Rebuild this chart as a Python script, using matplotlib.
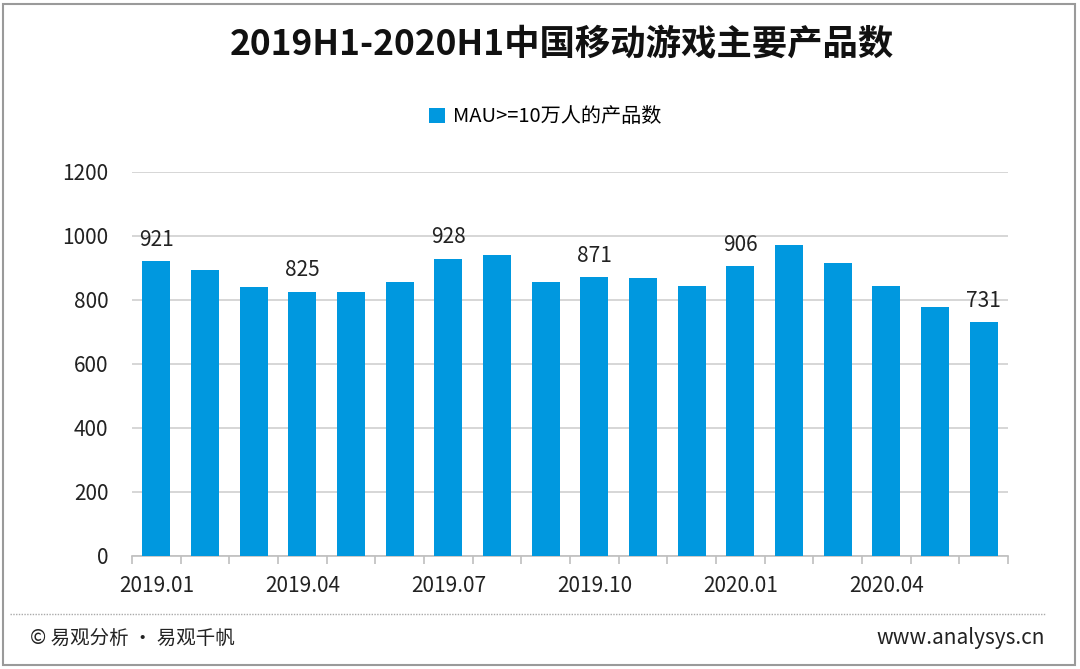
import matplotlib
matplotlib.use("Agg")
import matplotlib.pyplot as plt
from matplotlib.patches import Rectangle
from matplotlib.lines import Line2D

plt.rcParams['font.family'] = ['Noto Sans CJK SC', 'DejaVu Sans']

months = ['2019.01', '2019.02', '2019.03', '2019.04', '2019.05', '2019.06',
          '2019.07', '2019.08', '2019.09', '2019.10', '2019.11', '2019.12',
          '2020.01', '2020.02', '2020.03', '2020.04', '2020.05', '2020.06']
counts = [921, 895, 841, 825, 826, 857, 928, 940, 857, 871, 869, 844,
          906, 971, 915, 844, 778, 731]
labelled = [0, 3, 6, 9, 12, 17]
shown_ticks = [0, 3, 6, 9, 12, 15]

fig = plt.figure(figsize=(10.8, 6.69), dpi=100)
ax = fig.add_axes([132/1080, 1 - 556/669, 876/1080, 384/669])

x = list(range(len(months)))
ax.bar(x, counts, width=0.57, color='#0098DF', zorder=3, label='MAU>=10万人的产品数')
for i in labelled:
    ax.text(i, counts[i] + 33, str(counts[i]), ha='center', va='bottom',
            fontsize=15, color='#222222', zorder=4)

ax.set_xlim(-0.5, len(months) - 0.5)
ax.set_ylim(0, 1200)
ax.set_yticks(range(0, 1201, 200))
ax.tick_params(axis='y', length=0, labelsize=15, pad=17, colors='#222222')
ax.yaxis.grid(True, color='#d0d0d0', linewidth=1.2, zorder=0)

ax.set_xticks([i - 0.5 for i in range(len(months) + 1)], minor=True)
ax.set_xticks(shown_ticks)
ax.set_xticklabels([months[i] for i in shown_ticks], fontsize=15, color='#222222')
ax.tick_params(axis='x', which='major', length=0, pad=14)
ax.tick_params(axis='x', which='minor', length=6, color='#bfbfbf', width=1.2)

for s in ['top', 'right', 'left']:
    ax.spines[s].set_visible(False)
ax.spines['bottom'].set_color('#bfbfbf')
ax.spines['bottom'].set_linewidth(1.2)

fig.text(562/1080, 1 - 45/669, '2019H1-2020H1中国移动游戏主要产品数', ha='center', va='center',
         fontsize=25.5, fontweight='bold', color='#111111')
fig.legend(loc='center', bbox_to_anchor=(545/1080, 1 - 117/669), frameon=False,
           fontsize=14.5, handlelength=0.8, handleheight=0.8, handletextpad=0.4)

# footer
fig.add_artist(Line2D([10/1080, 1045/1080], [1 - 614/669] * 2, color='#aaaaaa',
                      linewidth=1, linestyle=(0, (1, 1))))
fig.text(30/1080, 1 - 638/669, '© 易观分析 · 易观千帆', ha='left', va='center',
         fontsize=14, color='#222222')
fig.text(1045/1080, 1 - 638/669, 'www.analysys.cn', ha='right', va='center',
         fontsize=15, color='#222222')

fig.add_artist(Rectangle((3/1080, 4/669), 1072/1080, 661/669, fill=False,
                         edgecolor='#9a9a9a', linewidth=1.5, transform=fig.transFigure))

fig.savefig('out.png', dpi=100)
